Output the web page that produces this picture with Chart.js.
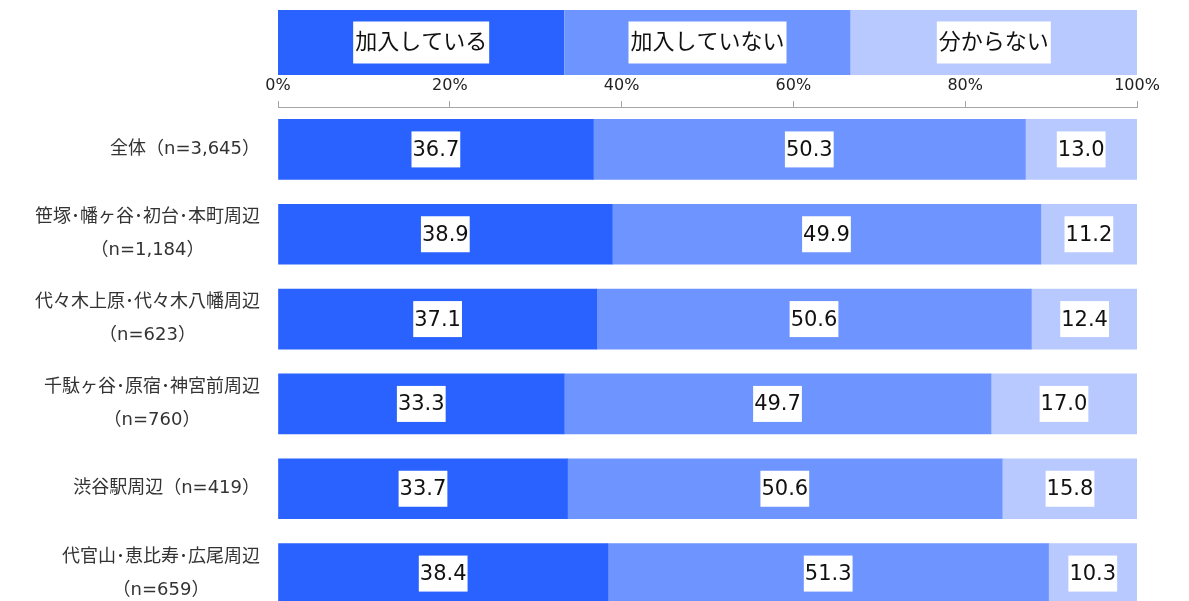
<!DOCTYPE html>
<html lang="ja">
<head>
<meta charset="utf-8">
<script src="https://cdn.jsdelivr.net/npm/chart.js@4"></script>
<style>
  html, body { margin: 0; padding: 0; background: #fff; overflow: hidden; }
  #wrap { width: 1189px; height: 616px; position: relative; }
</style>
</head>
<body>
<div id="wrap"><canvas id="chart"></canvas></div>
<script>
// --- data ---
const categories = [
  ['全体（n=3,645）'],
  ['笹塚･幡ヶ谷･初台･本町周辺', '（n=1,184）'],
  ['代々木上原･代々木八幡周辺', '（n=623）'],
  ['千駄ヶ谷･原宿･神宮前周辺', '（n=760）'],
  ['渋谷駅周辺（n=419）'],
  ['代官山･恵比寿･広尾周辺', '（n=659）']
];
const seriesNames = ['加入している', '加入していない', '分からない'];
const joined = [36.7, 38.9, 37.1, 33.3, 33.7, 38.4];
const notJoined = [50.3, 49.9, 50.6, 49.7, 50.6, 51.3];
const unknown = [13.0, 11.2, 12.4, 17.0, 15.8, 10.3];
const xTicks = [0, 20, 40, 60, 80, 100];

const colors = ['#2962ff', '#6e95ff', '#b8c9ff'];
const FONT = '"DejaVu Sans", "Noto Sans CJK JP", sans-serif';

// legend drawn as a strip of three equal blocks above the axis
const stripLegend = {
  id: 'stripLegend',
  afterDraw(chart) {
    const ctx = chart.ctx;
    const area = chart.chartArea;
    const w = (area.right - area.left) / seriesNames.length;
    const top = 10, h = 65;
    ctx.save();
    ctx.font = '22px ' + FONT;
    ctx.textAlign = 'center';
    ctx.textBaseline = 'middle';
    seriesNames.forEach((name, i) => {
      const x0 = area.left + i * w;
      ctx.fillStyle = colors[i];
      ctx.fillRect(x0, top, w, h);
      const tw = ctx.measureText(name).width;
      const cx = x0 + w / 2, cy = top + h / 2;
      ctx.fillStyle = '#fff';
      ctx.fillRect(cx - tw / 2 - 2, cy - 21, tw + 4, 42);
      ctx.fillStyle = '#111';
      ctx.fillText(name, cx, cy + 1);
    });
    ctx.restore();
  }
};

// category labels: block right-aligned, lines centred within the block
const catLabels = {
  id: 'catLabels',
  afterDraw(chart) {
    const ctx = chart.ctx;
    const yScale = chart.scales.y;
    const right = 260, lh = 33;
    ctx.save();
    ctx.font = '18px ' + FONT;
    ctx.fillStyle = '#333';
    ctx.textAlign = 'center';
    ctx.textBaseline = 'middle';
    categories.forEach((lines, i) => {
      const y = yScale.getPixelForValue(i);
      const maxW = Math.max(...lines.map(l => ctx.measureText(l).width));
      const cx = right - maxW / 2;
      lines.forEach((l, j) => {
        ctx.fillText(l, cx, y + (j - (lines.length - 1) / 2) * lh);
      });
    });
    ctx.restore();
  }
};

// value labels in white boxes
const valueBoxes = {
  id: 'valueBoxes',
  afterDatasetsDraw(chart) {
    const ctx = chart.ctx;
    ctx.save();
    ctx.font = '21px ' + FONT;
    ctx.textAlign = 'center';
    ctx.textBaseline = 'middle';
    chart.data.datasets.forEach((ds, di) => {
      const meta = chart.getDatasetMeta(di);
      meta.data.forEach((bar, i) => {
        const txt = ds.data[i].toFixed(1);
        const cx = (bar.x + bar.base) / 2;
        const tw = ctx.measureText(txt).width;
        ctx.fillStyle = '#fff';
        ctx.fillRect(cx - tw / 2 - 1, bar.y - 18, tw + 2, 36);
        ctx.fillStyle = '#111';
        ctx.fillText(txt, cx, bar.y + 1);
      });
    });
    ctx.restore();
  }
};

const ctx = document.getElementById('chart').getContext('2d');
new Chart(ctx, {
  type: 'bar',
  data: {
    labels: categories,
    datasets: [
      { label: seriesNames[0], data: joined, backgroundColor: colors[0] },
      { label: seriesNames[1], data: notJoined, backgroundColor: colors[1] },
      { label: seriesNames[2], data: unknown, backgroundColor: colors[2] }
    ]
  },
  options: {
    indexAxis: 'y',
    responsive: true,
    maintainAspectRatio: false,
    animation: false,
    datasets: { bar: { barThickness: 60 } },
    layout: { padding: { top: 71, right: 52, left: 0, bottom: 0 } },
    plugins: { legend: { display: false }, tooltip: { enabled: false } },
    scales: {
      x: {
        position: 'top',
        stacked: true,
        min: 0,
        max: 100,
        afterBuildTicks(scale) { scale.ticks = xTicks.map(v => ({ value: v })); },
        afterFit(scale) { scale.height = 36; scale.paddingLeft = 0; scale.paddingRight = 0; },
        ticks: {
          callback: v => v + '%',
          font: { family: FONT, size: 16 },
          color: '#222',
          padding: 6,
          maxRotation: 0
        },
        grid: { drawOnChartArea: false, drawTicks: true, tickLength: 6, color: '#a6a6a6' },
        border: { display: true, color: '#a6a6a6' }
      },
      y: {
        stacked: true,
        afterFit(scale) { scale.width = 278; scale.paddingTop = 0; scale.paddingBottom = 0; },
        ticks: { display: false, autoSkip: false },
        grid: { display: false, drawTicks: false },
        border: { display: false }
      }
    }
  },
  plugins: [stripLegend, catLabels, valueBoxes]
});
</script>
</body>
</html>
